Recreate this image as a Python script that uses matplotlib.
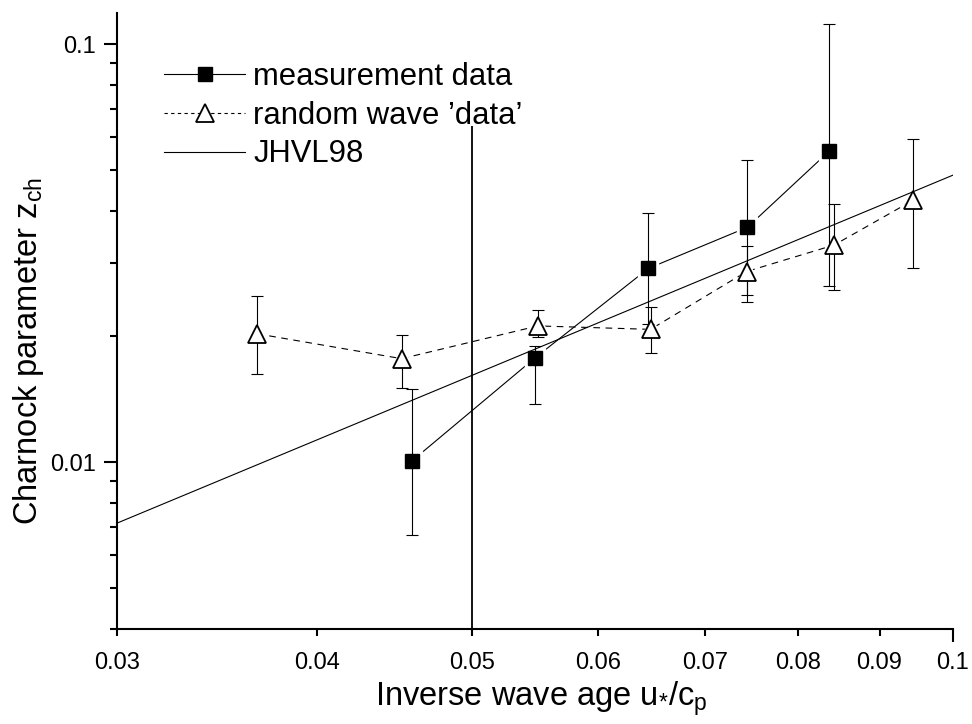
"""
Charnock parameter vs inverse wave age (log-log), measurement data,
random wave 'data' and the JHVL98 relation.
"""

import matplotlib
matplotlib.use("Agg")
import matplotlib.pyplot as plt
from matplotlib.lines import Line2D
from matplotlib.ticker import FixedLocator, FixedFormatter, NullFormatter

plt.rcParams['font.family'] = ['Liberation Sans', 'DejaVu Sans']
plt.rcParams['mathtext.fontset'] = 'custom'
plt.rcParams['mathtext.rm'] = 'Liberation Sans'
plt.rcParams['mathtext.it'] = 'Liberation Sans'

# Data
meas_x = [0.0459, 0.0548, 0.0645, 0.0744, 0.0837]
meas_y = [0.0101, 0.0178, 0.0291, 0.0365, 0.0555]
meas_lo = [0.0067, 0.0138, 0.0214, 0.0251, 0.0264]
meas_hi = [0.0150, 0.0190, 0.0394, 0.0528, 0.1116]

rand_x = [0.0367, 0.0452, 0.0550, 0.0647, 0.0743, 0.0843, 0.0945]
rand_y = [0.0203, 0.0177, 0.0212, 0.0208, 0.0286, 0.0331, 0.0424]
rand_lo = [0.0163, 0.0151, 0.0199, 0.0183, 0.0242, 0.0259, 0.0291]
rand_hi = [0.0250, 0.0202, 0.0231, 0.0235, 0.0330, 0.0415, 0.0594]

# JHVL98 line end points
jhvl_x = [0.03, 0.1]
jhvl_y = [0.00716, 0.0486]

# vertical line at u*/cp = 0.05 (stops just under the legend)
vline_x = 0.05
vline_y = [0.004, 0.0637]

x_ticks = [0.03, 0.04, 0.05, 0.06, 0.07, 0.08, 0.09]
x_tick_labels = ['0.03', '0.04', '0.05', '0.06', '0.07', '0.08', '0.09']
y_major = [0.01, 0.1]
y_major_labels = ['0.01', '0.1']
y_minor = [0.004, 0.005, 0.006, 0.007, 0.008, 0.009,
           0.02, 0.03, 0.04, 0.05, 0.06, 0.07, 0.08, 0.09]

fig = plt.figure(figsize=(9.72, 7.24), dpi=100)
ax = fig.add_axes([0.1207, 0.1316, 0.8594, 0.8509])
ax.set_xscale('log')
ax.set_yscale('log')
ax.set_xlim(0.03, 0.1)
ax.set_ylim(0.004, 0.119)

# JHVL98 relation and the vertical marker line
ax.plot(jhvl_x, jhvl_y, color='black', lw=0.8, zorder=3)
ax.vlines(vline_x, vline_y[0], vline_y[1], color='black', lw=1.3, zorder=1)


def errs(y, lo, hi):
    return [[v - l for v, l in zip(y, lo)], [h - v for v, h in zip(y, hi)]]


# measurement data
ax.plot(meas_x, meas_y, color='black', lw=0.8, zorder=2)
ax.plot(meas_x, meas_y, ls='none', marker='s', ms=14, mfc='white', mec='white', zorder=2.1)
ax.errorbar(meas_x, meas_y, yerr=errs(meas_y, meas_lo, meas_hi), fmt='none',
            ecolor='black', elinewidth=0.8, capsize=4.5, capthick=0.8, zorder=3)
ax.plot(meas_x, meas_y, ls='none', marker='s', ms=9.5, mfc='black', mec='black', zorder=5)

# random wave 'data'
ax.plot(rand_x, rand_y, color='black', lw=0.8, dashes=(6, 5), zorder=2)
ax.plot(rand_x, rand_y, ls='none', marker='^', ms=18, mfc='white', mec='white', zorder=2.1)
ax.errorbar(rand_x, rand_y, yerr=errs(rand_y, rand_lo, rand_hi), fmt='none',
            ecolor='black', elinewidth=0.8, capsize=4.5, capthick=0.8, zorder=3)
ax.plot(rand_x, rand_y, ls='none', marker='^', ms=12.5, mfc='white', mec='black',
        mew=1.3, zorder=5)

# axes styling
for side in ['top', 'right']:
    ax.spines[side].set_visible(False)
for side in ['left', 'bottom']:
    ax.spines[side].set_linewidth(1.5)

ax.xaxis.set_major_locator(FixedLocator([0.1]))
ax.xaxis.set_major_formatter(FixedFormatter(['0.1']))
ax.xaxis.set_minor_locator(FixedLocator(x_ticks))
ax.xaxis.set_minor_formatter(FixedFormatter(x_tick_labels))
ax.yaxis.set_major_locator(FixedLocator(y_major))
ax.yaxis.set_major_formatter(FixedFormatter(y_major_labels))
ax.yaxis.set_minor_locator(FixedLocator(y_minor))
ax.yaxis.set_minor_formatter(NullFormatter())

ax.tick_params(which='major', direction='out', length=9.5, width=1.5, labelsize=17)
ax.tick_params(which='minor', direction='out', length=5, width=1.5, labelsize=17)
ax.tick_params(axis='x', which='major', pad=7)
ax.tick_params(axis='x', which='minor', pad=11.5)
ax.tick_params(axis='y', which='major', pad=6)

ax.set_xlabel(r'Inverse wave age u$_{*}$/c$_{\mathrm{p}}$', fontsize=23.5)
ax.set_ylabel(r'Charnock parameter z$_{\mathrm{ch}}$', fontsize=23.5)
# label positions as in the original (y label sits a bit low)
ax.xaxis.set_label_coords(0.508, -0.082)
ax.yaxis.set_label_coords(-0.085, 0.45)

handles = [
    Line2D([], [], color='black', lw=0.8, marker='s', ms=9.5, mfc='black'),
    Line2D([], [], color='black', lw=0.8, dashes=(3, 3), marker='^', ms=12.5,
           mfc='white', mew=1.3),
    Line2D([], [], color='black', lw=0.8),
]
labels = ['measurement data', 'random wave \u2019data\u2019', 'JHVL98']
leg = ax.legend(handles, labels, loc='upper left', bbox_to_anchor=(0.0305, 0.955),
                fontsize=22.3, frameon=False, handlelength=2.6,
                handletextpad=0.26, labelspacing=0.28, borderpad=0.2)

fig.savefig('out.png', dpi=100)
